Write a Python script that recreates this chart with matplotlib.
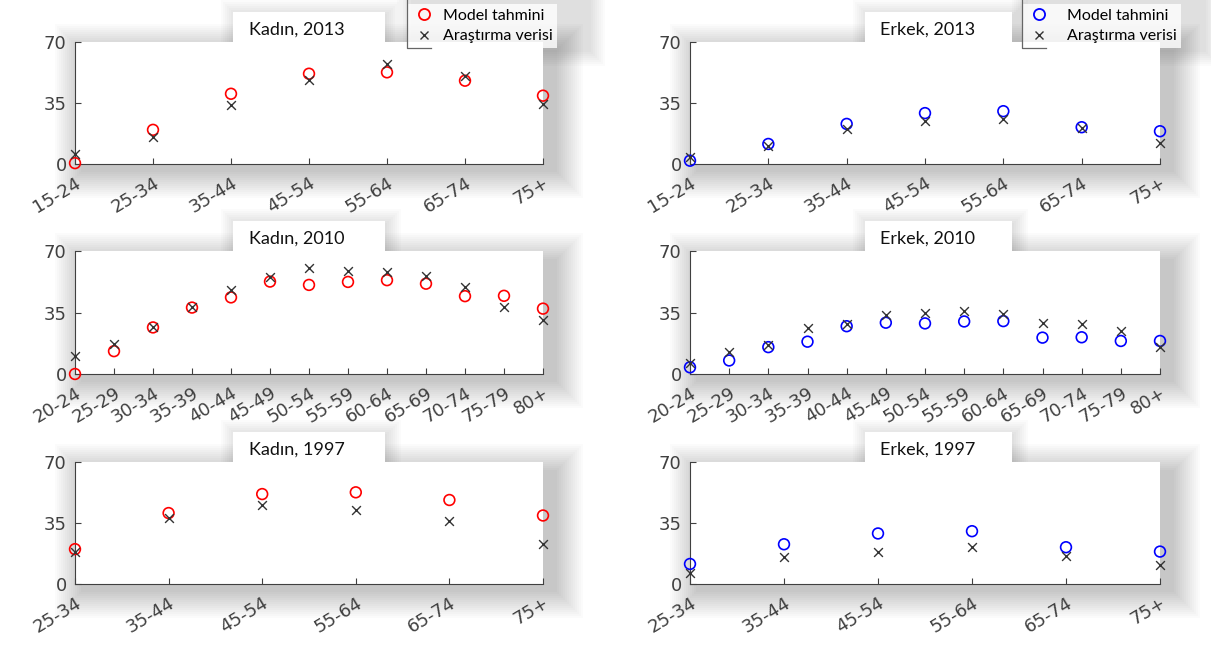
import matplotlib.pyplot as plt
from matplotlib.patches import Rectangle
from matplotlib.lines import Line2D

# yaş grupları
yas_2013 = ["15-24", "25-34", "35-44", "45-54", "55-64", "65-74", "75+"]
yas_2010 = ["20-24", "25-29", "30-34", "35-39", "40-44", "45-49", "50-54",
            "55-59", "60-64", "65-69", "70-74", "75-79", "80+"]
yas_1997 = ["25-34", "35-44", "45-54", "55-64", "65-74", "75+"]

# Kadın
kadin_2013_model = [0.5, 19.6, 40.3, 51.8, 52.6, 47.8, 39.2]
kadin_2013_veri = [5.6, 15.4, 33.8, 48.4, 57.4, 50.3, 34.5]
kadin_2010_model = [0.0, 13.0, 26.5, 37.8, 43.6, 52.6, 50.7, 52.4, 53.4, 51.4, 44.3, 44.5, 37.2]
kadin_2010_veri = [10.5, 17.1, 26.8, 38.4, 48.0, 55.1, 60.5, 58.7, 58.0, 55.5, 49.3, 38.4, 30.7]
kadin_1997_model = [20.0, 40.7, 51.6, 52.6, 48.2, 39.3]
kadin_1997_veri = [18.2, 37.8, 45.3, 42.6, 36.3, 23.0]

# Erkek
erkek_2013_model = [1.9, 11.5, 23.0, 29.2, 30.3, 21.1, 18.8]
erkek_2013_veri = [3.8, 10.6, 20.0, 24.8, 26.1, 20.7, 11.9]
erkek_2010_model = [3.8, 7.7, 15.3, 18.4, 27.2, 29.2, 28.8, 29.9, 30.1, 20.7, 20.9, 18.8, 18.8]
erkek_2010_veri = [6.1, 12.7, 16.7, 25.9, 28.6, 33.8, 34.9, 36.1, 34.0, 29.2, 28.2, 24.6, 15.4]
erkek_1997_model = [11.5, 22.8, 29.0, 30.3, 21.1, 18.6]
erkek_1997_veri = [6.5, 15.5, 18.6, 21.5, 16.3, 11.1]

W, H = 1211, 654
fig = plt.figure(figsize=(W / 100, H / 100), dpi=100)
fig.patch.set_facecolor("white")


def golge(x0, y0, x1, y1, dx=6, dy=8, n=14):
    # yumuşak gölge: üst üste binen saydam dikdörtgenler
    for i in range(n):
        g = 2 * i
        fig.patches.append(Rectangle(((x0 - g + dx) / W, 1 - (y1 + g + dy) / H),
                                     (x1 - x0 + 2 * g) / W, (y1 - y0 + 2 * g) / H,
                                     transform=fig.transFigure, facecolor="black",
                                     alpha=0.016, lw=0, zorder=-2))


def panel(x0, x1, ytop, ybot, kutu, etiketler, model, veri, renk, baslik):
    golge(x0, ytop, x1 + 8, ybot)
    bx0, bx1, tx = kutu
    golge(bx0, ytop - 30, bx1, ytop, dx=2, dy=2, n=8)
    ax = fig.add_axes([x0 / W, 1 - ybot / H, (x1 - x0) / W, (ybot - ytop) / H])
    ax.set_zorder(1)
    x = list(range(len(etiketler)))
    ax.scatter(x, model, s=60, facecolors="none", edgecolors=renk, linewidths=1.2, clip_on=False, zorder=3)
    ax.scatter(x, veri, s=40, marker="x", color="#333333", linewidths=1.0, clip_on=False, zorder=4)
    ax.set_xlim(0, len(etiketler) - 1)
    ax.set_ylim(0, 70)
    ax.set_yticks([0, 35, 70])
    ax.set_xticks(x)
    ax.set_xticklabels(etiketler, rotation=31, ha="right", rotation_mode="anchor")
    for s in ["top", "right"]:
        ax.spines[s].set_visible(False)
    for s in ["left", "bottom"]:
        ax.spines[s].set_color("#404040")
    ax.tick_params(colors="#404040", labelsize=13, length=4, direction="in")
    ax.tick_params(axis="y", pad=6)
    ax.tick_params(axis="x", pad=7)
    for t in ax.get_xticklabels() + ax.get_yticklabels():
        t.set_family("DejaVu Sans")
    # başlık kutusu
    fig.patches.append(Rectangle((bx0 / W, 1 - ytop / H), (bx1 - bx0) / W, 30 / H,
                                 transform=fig.transFigure, facecolor="white", lw=0, zorder=-1))
    fig.text(tx / W, 1 - (ytop - 12) / H, baslik, ha="center", va="center",
             fontsize=13, family="Lato", color="#111111")
    return ax


satirlar = [(42, 164), (251, 374), (462, 584)]
sol, sag = (75, 543), (690, 1160)
sol_kutu, sag_kutu = (233, 385, 297), (865, 1012, 928)

panel(*sol, *satirlar[0], sol_kutu, yas_2013, kadin_2013_model, kadin_2013_veri, "red", "Kadın, 2013")
panel(*sag, *satirlar[0], sag_kutu, yas_2013, erkek_2013_model, erkek_2013_veri, "blue", "Erkek, 2013")
panel(*sol, *satirlar[1], sol_kutu, yas_2010, kadin_2010_model, kadin_2010_veri, "red", "Kadın, 2010")
panel(*sag, *satirlar[1], sag_kutu, yas_2010, erkek_2010_model, erkek_2010_veri, "blue", "Erkek, 2010")
panel(*sol, *satirlar[2], sol_kutu, yas_1997, kadin_1997_model, kadin_1997_veri, "red", "Kadın, 1997")
panel(*sag, *satirlar[2], sag_kutu, yas_1997, erkek_1997_model, erkek_1997_veri, "blue", "Erkek, 1997")

for lx, renk, bosluk in [(407, "red", 0.45), (1022, "blue", 1.0)]:
    golge(lx, -10, lx + 180, 48, dx=4, dy=4, n=8)
    tutamak = [Line2D([], [], ls="none", marker="o", mfc="none", mec=renk, ms=8, mew=1.3),
               Line2D([], [], ls="none", marker="x", color="#333333", ms=6, mew=1.0)]
    leg = fig.legend(tutamak, ["Model tahmini", "Araştırma verisi"], loc="lower left",
                     bbox_to_anchor=(lx / W, 1 - 48 / H), prop={"family": "Lato", "size": 11.5},
                     frameon=True, fancybox=False, borderpad=0.3, handletextpad=bosluk,
                     labelspacing=0.39, handlelength=1.5, borderaxespad=0)
    leg.get_frame().set_edgecolor("white")
    leg.get_frame().set_linewidth(0)
    leg.set_zorder(5)
    # lejant çerçevesinin görünen sol ve alt kenarı
    fig.add_artist(Line2D([lx / W, lx / W, (lx + 24) / W], [1.0, 1 - 48 / H, 1 - 48 / H],
                          transform=fig.transFigure, color="#666666", lw=0.9, zorder=6))

fig.savefig("out.png", dpi=100, facecolor="white")
